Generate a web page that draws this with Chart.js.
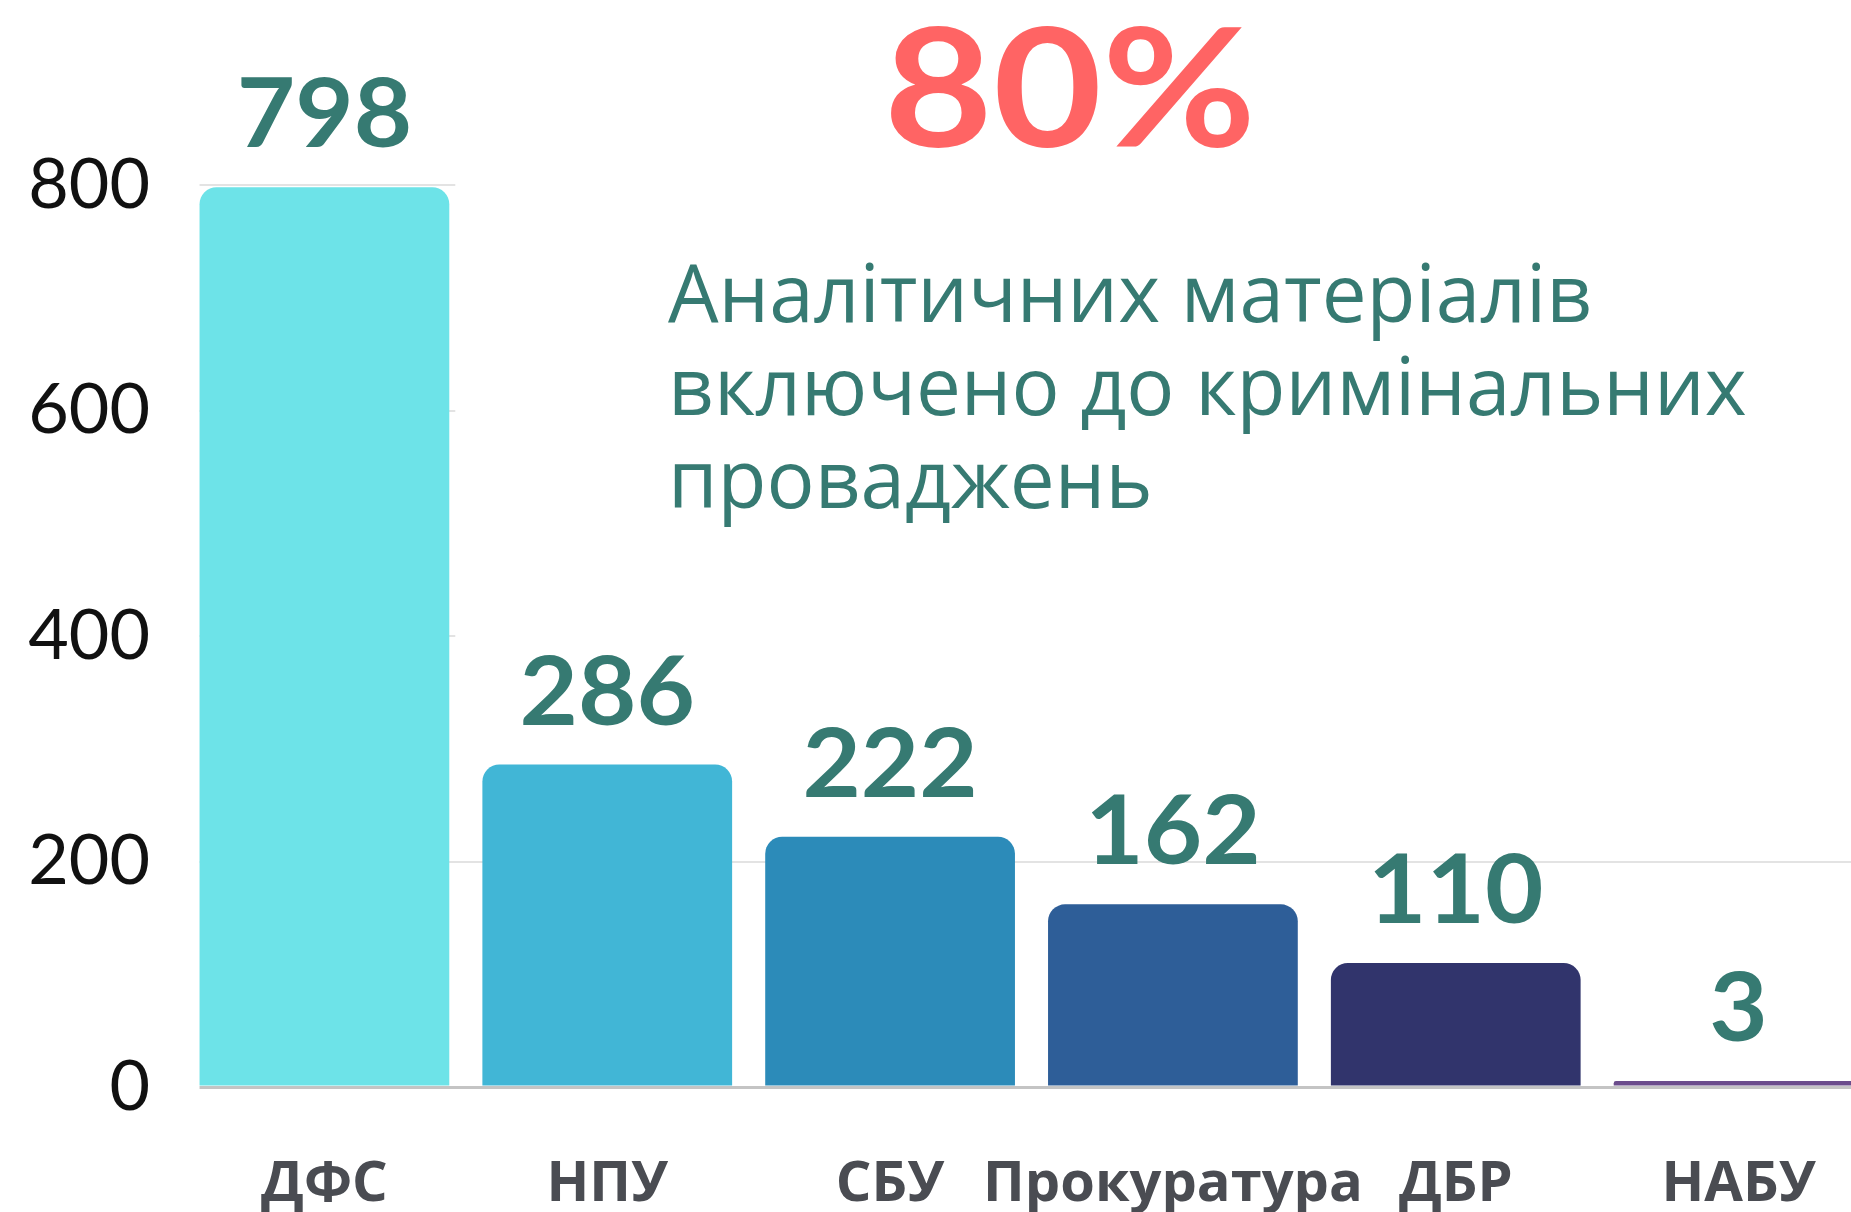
<!DOCTYPE html>
<html><head><meta charset="utf-8">
<script src="https://cdn.jsdelivr.net/npm/chart.js@4/dist/chart.umd.min.js"></script>
<style>
html,body{margin:0;padding:0;background:#fff;overflow:hidden;width:1851px;height:1212px;}
#wrap{position:relative;width:1880px;height:1212px;}
#c{position:absolute;left:0;top:0;}
#big{position:absolute;left:770px;top:1px;width:600px;text-align:center;font-family:Lato;font-weight:700;font-size:165px;line-height:1;color:#ff6464;transform:scaleX(1.14);transform-origin:50% 50%;}
#note{position:absolute;left:668px;top:244px;font-family:'Open Sans';font-size:80px;line-height:93px;color:#367a72;white-space:nowrap;}
</style></head>
<body>
<div id="wrap">
<canvas id="c" width="1880" height="1212"></canvas>
<div id="big">80%</div>
<div id="note">Аналітичних матеріалів<br>включено до кримінальних<br>проваджень</div>
</div>
<script>
const categories = ['ДФС','НПУ','СБУ','Прокуратура','ДБР','НАБУ'];
const values = [798,286,222,162,110,3];
const barColors = ['#6de3e8','#41b6d6','#2c8bb9','#2e5e98','#31346c','#6b4c8c'];
const yTicks = [0,200,400,600,800];

const maskPlugin = {
  id:'mask',
  beforeDatasetsDraw(chart){
    const ctx = chart.ctx, a = chart.chartArea;
    const first = chart.getDatasetMeta(0).data[0];
    ctx.save();
    ctx.fillStyle = '#fff';
    ctx.fillRect(a.left - 2, a.top - 5, (first.x - first.width/2) - a.left + 2, a.bottom - a.top + 10);
    ctx.fillRect(first.x + first.width/2 + 6, 0, chart.width, 660);
    ctx.restore();
  },
  afterDatasetsDraw(chart){
    const ctx = chart.ctx;
    const meta = chart.getDatasetMeta(0);
    meta.data.forEach((bar,i)=>{
      ctx.save();
      ctx.translate(bar.x, bar.y - 40);
      ctx.scale(1.05, 1);
      ctx.font = '700 96px Lato';
      ctx.fillStyle = '#367a72';
      ctx.textAlign = 'center';
      ctx.textBaseline = 'alphabetic';
      ctx.fillText(String(values[i]), 0, 0);
      ctx.restore();
    });
  }
};

new Chart(document.getElementById('c'), {
  type:'bar',
  data:{
    labels: categories,
    datasets:[{
      data: values,
      backgroundColor: barColors,
      borderRadius: {topLeft:17, topRight:17, bottomLeft:0, bottomRight:0},
      borderSkipped: false,
      barPercentage: 1,
      categoryPercentage: 0.883,
      minBarLength: 6
    }]
  },
  options:{
    responsive:false,
    animation:false,
    devicePixelRatio:1,
    layout:{padding:{top:185,left:0,right:0,bottom:0}},
    plugins:{legend:{display:false},tooltip:{enabled:false}},
    scales:{
      x:{
        grid:{display:false, drawTicks:false},
        border:{display:false},
        ticks:{font:{family:'Open Sans',weight:'bold',size:56},color:'#4a4c52',padding:64,maxRotation:0,minRotation:0,autoSkip:false},
        afterFit(s){ s.height = 125; }
      },
      y:{
        min:0,max:800,
        afterBuildTicks(s){ s.ticks = yTicks.map(v=>({value:v})); },
        grid:{
          color:(c)=> c.tick && c.tick.value===0 ? '#c4c4c4' : '#e3e3e3',
          lineWidth:(c)=> c.tick && c.tick.value===0 ? 3 : 2,
          drawTicks:false
        },
        border:{display:false},
        ticks:{font:{family:'Lato',size:70},color:'#111111',padding:33},
        afterFit(s){ s.width = 183; }
      }
    }
  },
  plugins:[maskPlugin]
});
</script>
</body></html>
